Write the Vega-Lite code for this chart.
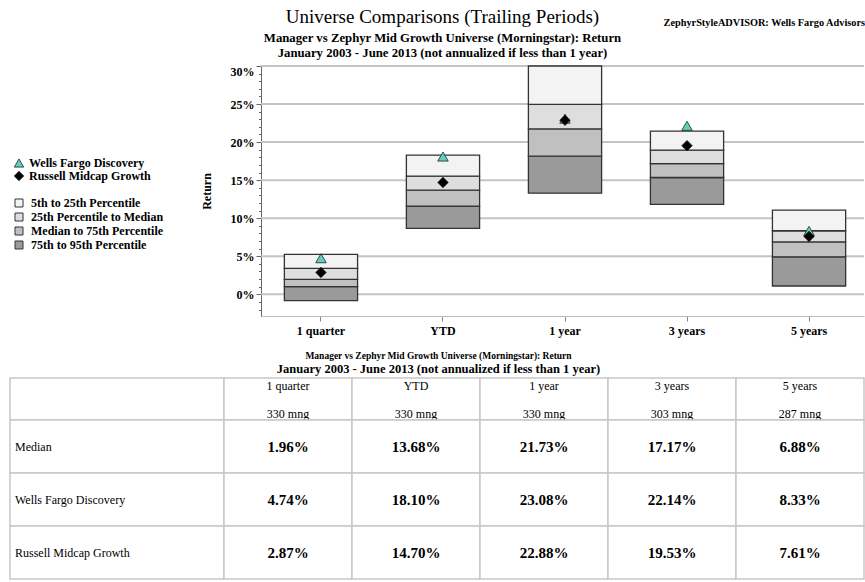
{
  "$schema": "https://vega.github.io/schema/vega-lite/v6.json",
  "background": "white",
  "padding": {"left": 9, "top": 8, "right": 0, "bottom": 0},
  "datasets": {
    "bands": [
      {"period": "1 quarter", "p5": 0.0525, "p25": 0.0341, "p50": 0.0196, "p75": 0.0100, "p95": -0.0084},
      {"period": "YTD", "p5": 0.1828, "p25": 0.1552, "p50": 0.1368, "p75": 0.1159, "p95": 0.0866},
      {"period": "1 year", "p5": 0.3000, "p25": 0.2497, "p50": 0.2173, "p75": 0.1815, "p95": 0.1329},
      {"period": "3 years", "p5": 0.2143, "p25": 0.1894, "p50": 0.1717, "p75": 0.1535, "p95": 0.1181},
      {"period": "5 years", "p5": 0.1106, "p25": 0.0835, "p50": 0.0688, "p75": 0.0493, "p95": 0.0109}
    ],
    "gridlevels": [
      {"level": 0}, {"level": 0.05}, {"level": 0.1}, {"level": 0.15}, {"level": 0.2}, {"level": 0.25}, {"level": 0.3}
    ],
    "markers": [
      {"period": "1 quarter", "series": "Wells Fargo Discovery", "value": 0.0474},
      {"period": "YTD", "series": "Wells Fargo Discovery", "value": 0.1810},
      {"period": "1 year", "series": "Wells Fargo Discovery", "value": 0.2308},
      {"period": "3 years", "series": "Wells Fargo Discovery", "value": 0.2214},
      {"period": "5 years", "series": "Wells Fargo Discovery", "value": 0.0833},
      {"period": "1 quarter", "series": "Russell Midcap Growth", "value": 0.0287},
      {"period": "YTD", "series": "Russell Midcap Growth", "value": 0.1470},
      {"period": "1 year", "series": "Russell Midcap Growth", "value": 0.2288},
      {"period": "3 years", "series": "Russell Midcap Growth", "value": 0.1953},
      {"period": "5 years", "series": "Russell Midcap Growth", "value": 0.0761}
    ],
    "header": [
      {"period": "1 quarter", "count": "330 mng", "row": "h"},
      {"period": "YTD", "count": "330 mng", "row": "h"},
      {"period": "1 year", "count": "330 mng", "row": "h"},
      {"period": "3 years", "count": "303 mng", "row": "h"},
      {"period": "5 years", "count": "287 mng", "row": "h"}
    ],
    "rowlabels": [
      {"col": "label", "row": "Median"},
      {"col": "label", "row": "Wells Fargo Discovery"},
      {"col": "label", "row": "Russell Midcap Growth"}
    ],
    "cells": [
      {"row": "Median", "period": "1 quarter", "v": 0.0196},
      {"row": "Median", "period": "YTD", "v": 0.1368},
      {"row": "Median", "period": "1 year", "v": 0.2173},
      {"row": "Median", "period": "3 years", "v": 0.1717},
      {"row": "Median", "period": "5 years", "v": 0.0688},
      {"row": "Wells Fargo Discovery", "period": "1 quarter", "v": 0.0474},
      {"row": "Wells Fargo Discovery", "period": "YTD", "v": 0.1810},
      {"row": "Wells Fargo Discovery", "period": "1 year", "v": 0.2308},
      {"row": "Wells Fargo Discovery", "period": "3 years", "v": 0.2214},
      {"row": "Wells Fargo Discovery", "period": "5 years", "v": 0.0833},
      {"row": "Russell Midcap Growth", "period": "1 quarter", "v": 0.0287},
      {"row": "Russell Midcap Growth", "period": "YTD", "v": 0.1470},
      {"row": "Russell Midcap Growth", "period": "1 year", "v": 0.2288},
      {"row": "Russell Midcap Growth", "period": "3 years", "v": 0.1953},
      {"row": "Russell Midcap Growth", "period": "5 years", "v": 0.0761}
    ]
  },
  "columns": 1,
  "spacing": 15,
  "concat": [
    {
      "title": {
        "text": "ZephyrStyleADVISOR: Wells Fargo Advisors",
        "anchor": "end",
        "frame": "bounds",
        "fontSize": 10.3,
        "fontWeight": "bold",
        "offset": -20,
        "color": "#000"
      },
      "columns": 1,
      "concat": [
        {
          "width": 603,
          "height": 250,
          "title": {
            "text": "Universe Comparisons (Trailing Periods)",
            "subtitle": ["Manager vs Zephyr Mid Growth Universe (Morningstar): Return", "January 2003 - June 2013 (not annualized if less than 1 year)"],
            "anchor": "middle",
            "frame": "group",
            "dx": -120,
            "fontSize": 19,
            "fontWeight": "normal",
            "color": "#000",
            "subtitleFontSize": 12.75,
            "subtitleFontWeight": "bold",
            "subtitleColor": "#000",
            "subtitleLineHeight": 15,
            "subtitlePadding": 5,
            "offset": 5
          },
          "resolve": {"axis": {"y": "independent"}},
          "layer": [
            {
              "data": {"name": "gridlevels"},
              "mark": {"type": "rule", "color": "#c4c4c4", "strokeWidth": 2},
              "encoding": {
                "y": {"field": "level", "type": "quantitative", "axis": null}
              }
            },
            {
              "data": {"name": "bands"},
              "mark": {"type": "bar", "stroke": "#333", "strokeWidth": 1.3},
              "encoding": {
                "x": {
                  "field": "period",
                  "type": "nominal",
                  "sort": ["1 quarter", "YTD", "1 year", "3 years", "5 years"],
                  "scale": {"paddingInner": 0.4, "paddingOuter": 0.171, "align": 0.56},
                  "axis": {
                    "title": null,
                    "labelAngle": 0,
                    "labelFontSize": 12,
                    "labelFontWeight": "bold",
                    "labelColor": "#000",
                    "labelPadding": 4,
                    "tickSize": 5,
                    "tickColor": "#888",
                    "domainColor": "#bbb",
                    "grid": false
                  }
                },
                "y": {
                  "field": "p95",
                  "type": "quantitative",
                  "scale": {"domain": [-0.0285, 0.30], "nice": false, "zero": false},
                  "axis": {
                    "orient": "left",
                    "title": "Return",
                    "titleFontSize": 12,
                    "titleFontWeight": "bold",
                    "titleColor": "#000",
                    "titlePadding": 17,
                    "values": [0, 0.05, 0.1, 0.15, 0.2, 0.25, 0.3],
                    "format": ".0%",
                    "labelOverlap": false,
                    "labelFontSize": 12,
                    "labelFontWeight": "bold",
                    "labelColor": "#000",
                    "labelFlush": true,
                    "labelPadding": 2,
                    "tickSize": 5,
                    "tickColor": "#666",
                    "domainColor": "#666",
                    "grid": false
                  }
                },
                "y2": {"field": "p75"},
                "fill": {
                  "datum": "75th to 95th Percentile",
                  "type": "nominal",
                  "scale": {
                    "domain": ["5th to 25th Percentile", "25th Percentile to Median", "Median to 75th Percentile", "75th to 95th Percentile"],
                    "range": ["#f3f3f3", "#dedede", "#c0c0c0", "#9a9a9a"]
                  },
                  "legend": {
                    "title": null,
                    "orient": "none",
                    "legendX": -251,
                    "legendY": 128,
                    "padding": 3,
                    "symbolType": "square",
                    "symbolSize": 64,
                    "symbolStrokeColor": "#444",
                    "symbolStrokeWidth": 1,
                    "labelFontSize": 12,
                    "labelFontWeight": "bold",
                    "labelColor": "#000",
                    "labelOffset": 6,
                    "rowPadding": 2
                  }
                }
              }
            },
            {
              "data": {"name": "bands"},
              "mark": {"type": "bar", "stroke": "#333", "strokeWidth": 1.3},
              "encoding": {
                "x": {"field": "period", "type": "nominal", "sort": ["1 quarter", "YTD", "1 year", "3 years", "5 years"]},
                "y": {
                  "field": "p75",
                  "type": "quantitative",
                  "axis": {
                    "orient": "left",
                    "title": null,
                    "values": [-0.02, -0.01, 0, 0.01, 0.02, 0.03, 0.04, 0.05, 0.06, 0.07, 0.08, 0.09, 0.1, 0.11, 0.12, 0.13, 0.14, 0.15, 0.16, 0.17, 0.18, 0.19, 0.2, 0.21, 0.22, 0.23, 0.24, 0.25, 0.26, 0.27, 0.28, 0.29, 0.3],
                    "tickCount": 50,
                    "labels": false,
                    "domain": false,
                    "grid": false,
                    "tickSize": 2.5,
                    "tickColor": "#666"
                  }
                },
                "y2": {"field": "p50"},
                "fill": {"datum": "Median to 75th Percentile", "type": "nominal"}
              }
            },
            {
              "data": {"name": "bands"},
              "mark": {"type": "bar", "stroke": "#333", "strokeWidth": 1.3},
              "encoding": {
                "x": {"field": "period", "type": "nominal", "sort": ["1 quarter", "YTD", "1 year", "3 years", "5 years"]},
                "y": {"field": "p50", "type": "quantitative", "axis": null},
                "y2": {"field": "p25"},
                "fill": {"datum": "25th Percentile to Median", "type": "nominal"}
              }
            },
            {
              "data": {"name": "bands"},
              "mark": {"type": "bar", "stroke": "#333", "strokeWidth": 1.3},
              "encoding": {
                "x": {"field": "period", "type": "nominal", "sort": ["1 quarter", "YTD", "1 year", "3 years", "5 years"]},
                "y": {"field": "p25", "type": "quantitative", "axis": null},
                "y2": {"field": "p5"},
                "fill": {"datum": "5th to 25th Percentile", "type": "nominal"}
              }
            },
            {
              "data": {"name": "markers"},
              "mark": {"type": "point", "filled": true, "size": 110, "stroke": "#222", "strokeWidth": 0.8, "opacity": 1},
              "encoding": {
                "x": {"field": "period", "type": "nominal", "sort": ["1 quarter", "YTD", "1 year", "3 years", "5 years"]},
                "y": {"field": "value", "type": "quantitative", "axis": null},
                "shape": {
                  "field": "series",
                  "type": "nominal",
                  "scale": {"domain": ["Wells Fargo Discovery", "Russell Midcap Growth"], "range": ["triangle-up", "diamond"]},
                  "legend": {
                    "title": null,
                    "orient": "none",
                    "legendX": -251,
                    "legendY": 88,
                    "padding": 3,
                    "symbolSize": 90,
                    "symbolStrokeColor": "#222",
                    "symbolStrokeWidth": 0.8,
                    "labelFontSize": 12,
                    "labelFontWeight": "bold",
                    "labelColor": "#000",
                    "labelOffset": 4,
                    "rowPadding": 0
                  }
                },
                "color": {
                  "field": "series",
                  "type": "nominal",
                  "scale": {"domain": ["Wells Fargo Discovery", "Russell Midcap Growth"], "range": ["#5fd0bd", "#000000"]},
                  "legend": {
                    "title": null,
                    "orient": "none",
                    "legendX": -251,
                    "legendY": 88,
                    "padding": 3,
                    "symbolSize": 90,
                    "symbolStrokeColor": "#222",
                    "symbolStrokeWidth": 0.8,
                    "labelFontSize": 12,
                    "labelFontWeight": "bold",
                    "labelColor": "#000",
                    "labelOffset": 4,
                    "rowPadding": 0
                  }
                }
              }
            }
          ]
        }
      ]
    },
    {
      "width": 603,
      "height": 201,
      "title": {
        "text": "Manager vs Zephyr Mid Growth Universe (Morningstar): Return",
        "subtitle": "January 2003 - June 2013 (not annualized if less than 1 year)",
        "anchor": "middle",
        "frame": "group",
        "dx": -124,
        "fontSize": 9.5,
        "fontWeight": "bold",
        "color": "#000",
        "subtitleFontSize": 12.5,
        "subtitleFontWeight": "bold",
        "subtitleColor": "#000",
        "subtitlePadding": 2,
        "offset": 2
      },
      "resolve": {"scale": {"x": "independent", "y": "independent"}},
      "layer": [
        {
          "data": {"values": [{"col": "label", "row": "h"}]},
          "mark": {"type": "rect", "fill": "white", "stroke": "#c8c8c8", "strokeWidth": 1.5},
          "encoding": {
            "x": {"field": "col", "type": "nominal", "axis": null, "scale": {"range": [-251, -37]}},
            "y": {"field": "row", "type": "nominal", "axis": null, "scale": {"range": [0, 42]}}
          }
        },
        {
          "data": {"name": "header"},
          "encoding": {
            "x": {"field": "period", "type": "nominal", "sort": null, "axis": null, "scale": {"range": [-37, 603]}},
            "y": {"field": "row", "type": "nominal", "axis": null, "scale": {"range": [0, 42]}}
          },
          "layer": [
            {"mark": {"type": "rect", "fill": "white", "stroke": "#c8c8c8", "strokeWidth": 1.5}},
            {
              "mark": {"type": "text", "fontSize": 12, "color": "#000"},
              "encoding": {
                "y": {"field": "row", "type": "nominal", "axis": null, "bandPosition": 0.2},
                "text": {"field": "period"}
              }
            },
            {
              "mark": {"type": "text", "fontSize": 12, "color": "#000"},
              "encoding": {
                "y": {"field": "row", "type": "nominal", "axis": null, "bandPosition": 0.86},
                "text": {"field": "count"}
              }
            }
          ]
        },
        {
          "data": {"name": "rowlabels"},
          "encoding": {
            "x": {"field": "col", "type": "nominal", "axis": null, "scale": {"range": [-251, -37]}},
            "y": {"field": "row", "type": "nominal", "sort": null, "axis": null, "scale": {"range": [42, 201]}}
          },
          "layer": [
            {"mark": {"type": "rect", "fill": "white", "stroke": "#c8c8c8", "strokeWidth": 1.5}},
            {
              "mark": {"type": "text", "fontSize": 12, "align": "left", "dx": 5, "color": "#000"},
              "encoding": {
                "x": {"field": "col", "type": "nominal", "axis": null, "bandPosition": 0},
                "text": {"field": "row"}
              }
            }
          ]
        },
        {
          "data": {"name": "cells"},
          "encoding": {
            "x": {"field": "period", "type": "nominal", "sort": ["1 quarter", "YTD", "1 year", "3 years", "5 years"], "axis": null, "scale": {"range": [-37, 603]}},
            "y": {"field": "row", "type": "nominal", "sort": ["Median", "Wells Fargo Discovery", "Russell Midcap Growth"], "axis": null, "scale": {"range": [42, 201]}}
          },
          "layer": [
            {"mark": {"type": "rect", "fill": "white", "stroke": "#c8c8c8", "strokeWidth": 1.5}},
            {
              "mark": {"type": "text", "fontSize": 15, "fontWeight": "bold", "color": "#000"},
              "encoding": {"text": {"field": "v", "type": "quantitative", "format": ".2%"}}
            }
          ]
        }
      ]
    }
  ],
  "config": {
    "font": "Liberation Serif",
    "view": {"stroke": null},
    "axis": {"labelFont": "Liberation Serif", "titleFont": "Liberation Serif"},
    "legend": {"labelFont": "Liberation Serif"},
    "title": {"font": "Liberation Serif", "subtitleFont": "Liberation Serif"}
  }
}
